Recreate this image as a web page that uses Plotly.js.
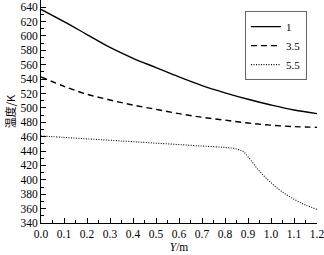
<!DOCTYPE html>
<html>
<head>
<meta charset="utf-8">
<script src="https://cdn.plot.ly/plotly-3.0.1.min.js"></script>
<style>html,body{margin:0;padding:0;background:#fff;}#chart{width:324px;height:255px;}</style>
</head>
<body>
<div id="chart"></div>
<script>
const yPos = [0, 0.1, 0.2, 0.3, 0.4, 0.5, 0.6, 0.7, 0.8, 0.9, 1.0, 1.1, 1.2];
const temp1 = [637, 620, 602, 584, 569, 556, 543, 531, 521, 512, 504, 497, 492];
const temp35 = [543, 530, 519, 511, 504, 498, 492, 487, 483, 479, 476, 474, 473];
const yPosDot = [0, 0.1, 0.2, 0.3, 0.4, 0.5, 0.6, 0.7, 0.8, 0.85, 0.88, 0.9, 0.95, 1.0, 1.05, 1.1, 1.15, 1.2];
const temp55 = [461, 459, 457, 455, 453, 451, 449, 447, 445, 443, 439, 432, 412, 396, 383, 373, 365, 359];
const seriesNames = ["1", "3.5", "5.5"];

const serif = "Liberation Serif, Times New Roman, serif";
const traces = [
  {x: yPos, y: temp1, name: seriesNames[0], mode: "lines", line: {color: "#000", width: 1.4, dash: "solid", shape: "spline"}},
  {x: yPos, y: temp35, name: seriesNames[1], mode: "lines", line: {color: "#000", width: 1.4, dash: "6px,4px", shape: "spline"}},
  {x: yPosDot, y: temp55, name: seriesNames[2], mode: "lines", line: {color: "#000", width: 1.1, dash: "1px,1.5px", shape: "spline"}}
];
const layout = {
  width: 324, height: 255,
  margin: {l: 41, r: 7, t: 0, b: 32},
  paper_bgcolor: "#fff", plot_bgcolor: "#fff",
  font: {family: serif, size: 12, color: "#000"},
  showlegend: true,
  legend: {x: 0.739, y: 0.95, xanchor: "left", yanchor: "top", bordercolor: "#666", borderwidth: 1,
    bgcolor: "#fff", font: {family: serif, size: 11, color: "#000"}, itemwidth: 30, tracegroupgap: 0},
  xaxis: {
    range: [0, 1.2], tickvals: [0,0.1,0.2,0.3,0.4,0.5,0.6,0.7,0.8,0.9,1.0,1.1,1.2],
    ticktext: ["0.0","0.1","0.2","0.3","0.4","0.5","0.6","0.7","0.8","0.9","1.0","1.1","1.2"],
    ticklabeloverflow: "allow",
    ticks: "inside", ticklen: 5, tickcolor: "#000", showline: true, linecolor: "#000", linewidth: 1,
    showgrid: false, zeroline: false, mirror: false,
    minor: {dtick: 0.05, tick0: 0, ticks: "inside", ticklen: 3, tickcolor: "#000", showgrid: false},
    tickfont: {family: serif, size: 11.5, color: "#000"},
    title: {text: "<i>Y</i>/m", font: {family: serif, size: 11.5, color: "#000"}, standoff: 4}
  },
  yaxis: {
    range: [340, 650], tickvals: [340,360,380,400,420,440,460,480,500,520,540,560,580,600,620,640],
    ticklabeloverflow: "allow",
    ticks: "inside", ticklen: 5, tickcolor: "#000", showline: true, linecolor: "#000", linewidth: 1,
    showgrid: false, zeroline: false, mirror: false,
    minor: {dtick: 10, tick0: 340, ticks: "inside", ticklen: 3, tickcolor: "#000", showgrid: false},
    tickfont: {family: serif, size: 11.5, color: "#000"},
    title: {text: "温度/K", font: {family: "Noto Sans CJK SC, " + serif, size: 11, color: "#000"}, standoff: 2}
  }
};
Plotly.newPlot("chart", traces, layout, {staticPlot: true, displayModeBar: false});
</script>
</body>
</html>
